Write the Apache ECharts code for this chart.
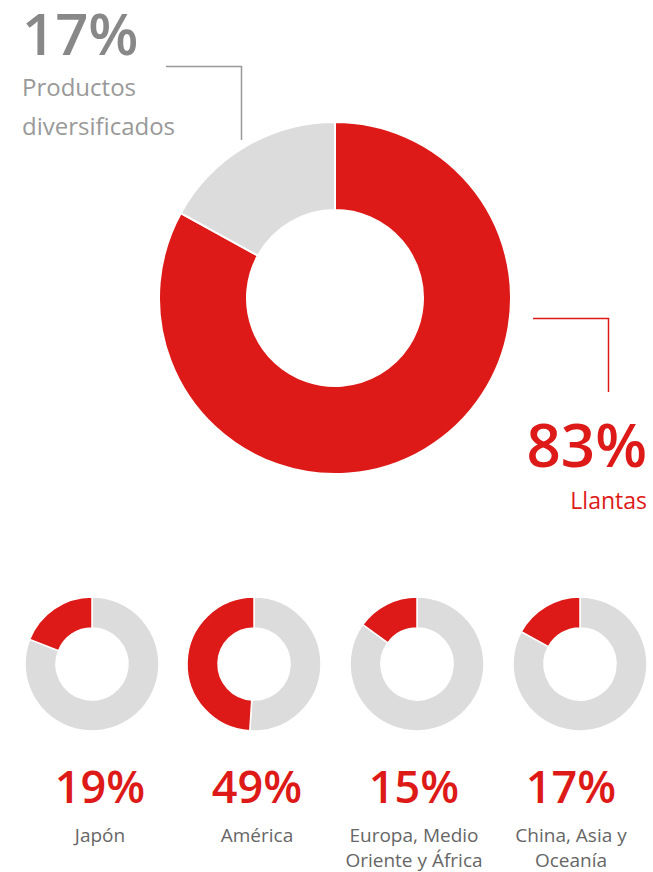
<!DOCTYPE html>
<html>
<head>
<meta charset="utf-8">
<script src="https://cdn.jsdelivr.net/npm/echarts@6/dist/echarts.min.js"></script>
<style>
  html, body { margin: 0; padding: 0; background: #fff; }
  #main { width: 653px; height: 872px; }
</style>
</head>
<body>
<div id="main"></div>
<script>
// main split
var mainNames = ["Llantas", "Productos diversificados"];
var mainValues = [83, 17];
// regions (red share of each)
var regionNames = ["Japón", "América", "Europa, Medio\nOriente y África", "China, Asia y\nOceanía"];
var regionValues = [19, 49, 15, 17];

var RED = "#dd1a17";
var GREY = "#dcdcdc";
var FONT = "Open Sans";

var regionX = [92, 254, 417, 580];
var labelX = [100, 257, 414, 571];

var chartDom = document.getElementById("main");
var myChart = echarts.init(chartDom, null, { renderer: "svg" });

var series = [];
series.push({
  type: "pie",
  center: [335, 298],
  radius: [88, 176],
  startAngle: 90,
  clockwise: true,
  silent: true,
  label: { show: false },
  labelLine: { show: false },
  itemStyle: { borderColor: "#fff", borderWidth: 2 },
  data: [
    { name: mainNames[0], value: mainValues[0], itemStyle: { color: RED } },
    { name: mainNames[1], value: mainValues[1], itemStyle: { color: GREY } }
  ]
});

var graphics = [
  // leader lines
  { type: "polyline", shape: { points: [[166, 66.5], [241.5, 66.5], [241.5, 140]] },
    style: { stroke: "#999", lineWidth: 1.5, fill: null } },
  { type: "polyline", shape: { points: [[533, 318.5], [608.5, 318.5], [608.5, 392]] },
    style: { stroke: RED, lineWidth: 1.5, fill: null } },
  { type: "text", left: 22, top: 3,
    style: { text: mainValues[1] + "%", font: "600 58px '" + FONT + "'", fill: "#888" } },
  { type: "text", left: 22, top: 67,
    style: { text: "Productos\ndiversificados", font: "24px '" + FONT + "'", lineHeight: 39, fill: "#999" } },
  { type: "text", right: 6, top: 414,
    style: { text: mainValues[0] + "%", font: "600 60px '" + FONT + "'", fill: RED, textAlign: "right" } },
  { type: "text", right: 6, top: 488,
    style: { text: mainNames[0], font: "23px '" + FONT + "'", fill: RED, textAlign: "right" } }
];

for (var i = 0; i < regionValues.length; i++) {
  series.push({
    type: "pie",
    center: [regionX[i], 664],
    radius: [36, 67],
    startAngle: 90,
    clockwise: true,
    silent: true,
    label: { show: false },
    labelLine: { show: false },
    itemStyle: { borderColor: "#fff", borderWidth: 1.5 },
    data: [
      { name: "resto", value: 100 - regionValues[i], itemStyle: { color: GREY } },
      { name: regionNames[i], value: regionValues[i], itemStyle: { color: RED } }
    ]
  });
  graphics.push({
    type: "text", x: labelX[i], y: 763,
    style: { text: regionValues[i] + "%", font: "600 45px '" + FONT + "'", fill: RED, textAlign: "center" }
  });
  graphics.push({
    type: "text", x: labelX[i], y: 822,
    style: { text: regionNames[i], font: "19px '" + FONT + "'", lineHeight: 25, fill: "#666", textAlign: "center" }
  });
}

var option = {
  animation: false,
  series: series,
  graphic: graphics
};
option && myChart.setOption(option);
</script>
</body>
</html>
